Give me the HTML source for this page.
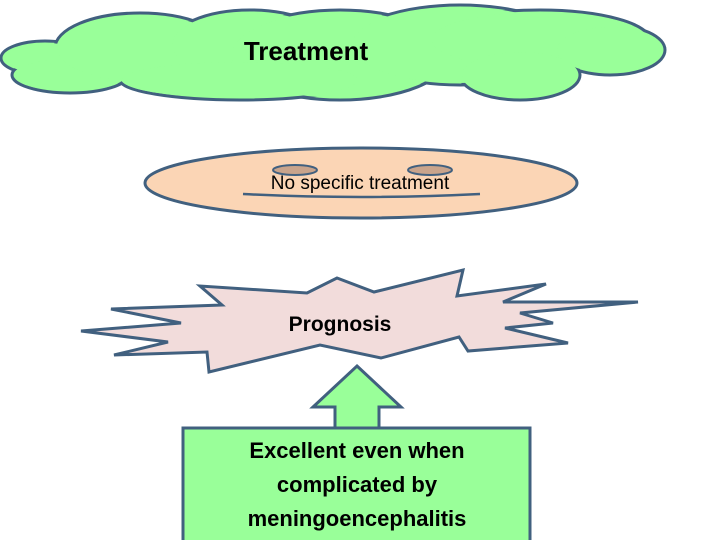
<!DOCTYPE html>
<html><head><style>body{margin:0;background:#fff}svg{display:block}</style></head><body>
<svg width="720" height="540" viewBox="0 0 720 540" xmlns="http://www.w3.org/2000/svg" font-family="Liberation Sans, sans-serif">
<g stroke="#41607f" stroke-width="3" fill="#99ff99">
<ellipse cx="45" cy="58" rx="44" ry="17"/>
<ellipse cx="70" cy="75" rx="58" ry="18"/>
<ellipse cx="140" cy="48" rx="85" ry="35"/>
<ellipse cx="250" cy="45" rx="80" ry="35"/>
<ellipse cx="340" cy="55" rx="110" ry="45"/>
<ellipse cx="460" cy="45" rx="110" ry="40"/>
<ellipse cx="540" cy="40" rx="110" ry="30"/>
<ellipse cx="610" cy="50" rx="55" ry="25"/>
<ellipse cx="520" cy="75" rx="60" ry="25"/>
<ellipse cx="240" cy="80" rx="120" ry="20"/>
</g>
<g fill="#99ff99">
<ellipse cx="45" cy="58" rx="42" ry="15"/>
<ellipse cx="70" cy="75" rx="56" ry="16"/>
<ellipse cx="140" cy="48" rx="83" ry="33"/>
<ellipse cx="250" cy="45" rx="78" ry="33"/>
<ellipse cx="340" cy="55" rx="108" ry="43"/>
<ellipse cx="460" cy="45" rx="108" ry="38"/>
<ellipse cx="540" cy="40" rx="108" ry="28"/>
<ellipse cx="610" cy="50" rx="53" ry="23"/>
<ellipse cx="520" cy="75" rx="58" ry="23"/>
<ellipse cx="240" cy="80" rx="118" ry="18"/>
</g>
<text x="306" y="60" font-size="26" font-weight="bold" text-anchor="middle">Treatment</text>
<ellipse cx="361" cy="183" rx="216" ry="35" fill="#fbd5b5" stroke="#41607f" stroke-width="3"/>
<ellipse cx="295" cy="170" rx="22" ry="5" fill="#c9a48c" stroke="#41607f" stroke-width="2"/>
<ellipse cx="430" cy="170" rx="22" ry="5" fill="#c9a48c" stroke="#41607f" stroke-width="2"/>
<path d="M243 194 Q360 200 480 194" fill="none" stroke="#41607f" stroke-width="2.5"/>
<text x="360" y="189" font-size="19" text-anchor="middle">No specific treatment</text>
<polygon points="81,331 181,323 111,309 222,305 200,286 307,293 337,278 374,292 463,270 457,296 546,284 503,302 638,302 520,313 553,323 505,328 568,343 468,351 459,337 381,358 320,345 209,372 207,352 114,355 168,342" fill="#f2dcdb" stroke="#41607f" stroke-width="3" stroke-linejoin="miter"/>
<text x="340" y="331" font-size="21" font-weight="bold" text-anchor="middle">Prognosis</text>
<polygon points="357,366 401,407 379,407 379,428 335,428 335,407 313,407" fill="#99ff99" stroke="#41607f" stroke-width="3"/>
<rect x="183" y="428" width="347" height="114" fill="#99ff99" stroke="#41607f" stroke-width="3"/>
<g font-size="22" font-weight="bold" text-anchor="middle">
<text x="357" y="458">Excellent even when</text>
<text x="357" y="492">complicated by</text>
<text x="357" y="526">meningoencephalitis</text>
</g>
</svg>
</body></html>
